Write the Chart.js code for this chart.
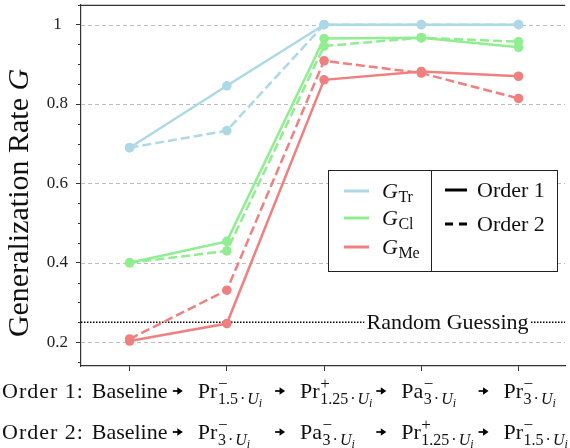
<!DOCTYPE html>
<html>
<head>
<meta charset="utf-8">
<script src="https://cdn.jsdelivr.net/npm/chart.js@4.4.1/dist/chart.umd.min.js"></script>
<style>
  html, body { margin: 0; padding: 0; background: #fff; }
</style>
</head>
<body>
<canvas id="chart" width="570" height="448"></canvas>
<script>
// step index along each ordering
const steps = [0, 1, 2, 3, 4];
// [operator, sign, factor] of each step, per ordering
const order1Labels = ["Baseline", ["Pr", "\u2212", "1.5"], ["Pr", "+", "1.25"], ["Pa", "\u2212", "3"], ["Pr", "\u2212", "3"]];
const order2Labels = ["Baseline", ["Pr", "\u2212", "3"], ["Pa", "\u2212", "3"], ["Pr", "+", "1.25"], ["Pr", "\u2212", "1.5"]];

const trOrder1 = [0.690, 0.846, 1.000, 1.000, 1.000];
const trOrder2 = [0.690, 0.733, 1.000, 1.000, 1.000];
const clOrder1 = [0.400, 0.454, 0.965, 0.967, 0.943];
const clOrder2 = [0.400, 0.430, 0.946, 0.967, 0.957];
const meOrder1 = [0.203, 0.247, 0.861, 0.882, 0.870];
const meOrder2 = [0.208, 0.331, 0.909, 0.878, 0.814];

const yTicks = [0.2, 0.4, 0.6, 0.8, 1];
const randomGuess = 0.25;

const seriesNames = ["Tr", "Cl", "Me"];
const seriesColors = ["#add8e6", "#90ee90", "#f08080"];

const SERIF = '"Liberation Serif", "Times New Roman", serif';
function font(size, italic) {
    return (italic ? "italic " : "") + size + "px " + SERIF;
}

function pts(values) {
    return steps.map((s, i) => ({ x: s, y: values[i] }));
}

function lineSet(values, color, dashed) {
    return {
        data: pts(values),
        borderColor: color,
        backgroundColor: color,
        borderWidth: 2.5,
        borderDash: dashed ? [9, 4] : [],
        pointRadius: 4.8,
        pointBorderWidth: 0,
        pointBackgroundColor: color,
        tension: 0,
        fill: false,
    };
}

// little latex-ish arrow
function drawArrow(ctx, x, y) {
    ctx.save();
    ctx.strokeStyle = "#000";
    ctx.fillStyle = "#000";
    ctx.lineWidth = 1.7;
    ctx.beginPath();
    ctx.moveTo(x, y);
    ctx.lineTo(x + 6.5, y);
    ctx.stroke();
    ctx.beginPath();
    ctx.moveTo(x + 10, y);
    ctx.lineTo(x + 4.5, y - 3.8);
    ctx.lineTo(x + 4.5, y + 3.8);
    ctx.closePath();
    ctx.fill();
    ctx.restore();
}

// e.g. Pr^-_{1.5 . U_i}
function drawOp(ctx, x, y, spec) {
    ctx.font = font(22);
    ctx.fillText(spec[0], x, y);
    const cx = x + ctx.measureText(spec[0]).width + 0.5;
    ctx.font = font(17);
    ctx.fillText(spec[1], cx, y - 9);
    let sx = cx;
    ctx.font = font(16);
    ctx.fillText(spec[2], sx, y + 6);
    sx += ctx.measureText(spec[2]).width + 2;
    ctx.fillText("\u00b7", sx, y + 6);
    sx += ctx.measureText("\u00b7").width + 2;
    ctx.font = font(16, true);
    ctx.fillText("U", sx, y + 6);
    sx += ctx.measureText("U").width;
    ctx.font = font(12, true);
    ctx.fillText("i", sx, y + 9);
}

const gridPlugin = {
    id: "gridPlugin",
    beforeDatasetsDraw(chart) {
        const ctx = chart.ctx, a = chart.chartArea, ys = chart.scales.y;
        ctx.save();
        ctx.strokeStyle = "#bdbdbd";
        ctx.lineWidth = 1;
        ctx.setLineDash([4, 3]);
        yTicks.forEach(v => {
            const py = Math.round(ys.getPixelForValue(v)) + 0.5;
            ctx.beginPath();
            ctx.moveTo(a.left, py);
            ctx.lineTo(a.right, py);
            ctx.stroke();
        });
        ctx.setLineDash([]);
        ctx.strokeStyle = "#333";
        // minor ticks every 0.05
        for (let k = 3; k <= 21; k++) {
            if (k % 4 === 0) continue;
            const py = Math.round(ys.getPixelForValue(k * 0.05)) + 0.5;
            ctx.beginPath();
            ctx.moveTo(a.left - 3, py);
            ctx.lineTo(a.left, py);
            ctx.stroke();
        }
        // top spine
        ctx.lineWidth = 1.2;
        ctx.beginPath();
        ctx.moveTo(a.left, a.top + 0.5);
        ctx.lineTo(a.right, a.top + 0.5);
        ctx.stroke();
        ctx.restore();
    },
    afterDatasetsDraw(chart) {
        const ctx = chart.ctx, xs = chart.scales.x, ys = chart.scales.y;
        const cx = xs.getPixelForValue(3.27);
        const cy = ys.getPixelForValue(randomGuess);
        ctx.save();
        ctx.font = font(22);
        const txt = "Random Guessing";
        const w = ctx.measureText(txt).width;
        ctx.fillStyle = "#fff";
        ctx.fillRect(cx - w / 2 - 2, cy - 9, w + 4, 20);
        ctx.fillStyle = "#111";
        ctx.textAlign = "center";
        ctx.fillText(txt, cx, cy + 7);
        ctx.restore();
    },
    afterDraw(chart) {
        const ctx = chart.ctx, xs = chart.scales.x;
        ctx.save();
        ctx.fillStyle = "#111";
        ctx.textBaseline = "alphabetic";

        // y axis title
        ctx.save();
        ctx.translate(28, 203);
        ctx.rotate(-Math.PI / 2);
        ctx.font = font(30);
        const t1 = "Generalization Rate ";
        const w1 = ctx.measureText(t1).width;
        ctx.font = font(30, true);
        const w2 = ctx.measureText("G").width;
        ctx.font = font(30);
        ctx.fillText(t1, -(w1 + w2) / 2, 0);
        ctx.font = font(30, true);
        ctx.fillText("G", -(w1 + w2) / 2 + w1, 0);
        ctx.restore();

        // two rows of step labels
        const arrowOffset = [0, 54, 49, 45, 40];
        const rows = [["Order 1:", order1Labels, 398], ["Order 2:", order2Labels, 439]];
        rows.forEach(([name, labels, y]) => {
            ctx.font = font(22);
            ctx.textAlign = "left";
            ctx.letterSpacing = "1px";
            ctx.fillText(name, 2, y);
            ctx.letterSpacing = "0px";
            steps.forEach((s, i) => {
                const px = xs.getPixelForValue(s);
                if (typeof labels[i] === "string") {
                    ctx.font = font(22);
                    ctx.textAlign = "center";
                    ctx.fillText(labels[i], px, y);
                    ctx.textAlign = "left";
                } else {
                    const ax = px - arrowOffset[i];
                    drawArrow(ctx, ax, y - 7);
                    drawOp(ctx, ax + 25, y, labels[i]);
                }
            });
        });

        // legend box
        const L = { x: 328, y: 170, w: 229, h: 101, div: 431 };
        ctx.fillStyle = "#fff";
        ctx.fillRect(L.x, L.y, L.w, L.h);
        ctx.strokeStyle = "#222";
        ctx.lineWidth = 1;
        ctx.strokeRect(L.x + 0.5, L.y + 0.5, L.w, L.h);
        ctx.beginPath();
        ctx.moveTo(L.div + 0.5, L.y);
        ctx.lineTo(L.div + 0.5, L.y + L.h);
        ctx.stroke();

        const rowY = [191, 218, 247];
        seriesNames.forEach((n, i) => {
            const y = rowY[i];
            ctx.strokeStyle = seriesColors[i];
            ctx.lineWidth = 3;
            ctx.beginPath();
            ctx.moveTo(344, y);
            ctx.lineTo(369, y);
            ctx.stroke();
            ctx.fillStyle = "#111";
            ctx.font = font(22, true);
            ctx.fillText("G", 382, y + 7);
            const gw = ctx.measureText("G").width;
            ctx.font = font(16);
            ctx.fillText(n, 382 + gw + 0.5, y + 11);
        });

        const ordY = [190, 224];
        ["Order 1", "Order 2"].forEach((n, i) => {
            const y = ordY[i];
            ctx.strokeStyle = "#000";
            ctx.lineWidth = 3;
            ctx.setLineDash(i === 0 ? [] : [8, 6]);
            ctx.beginPath();
            ctx.moveTo(445, y);
            ctx.lineTo(467, y);
            ctx.stroke();
            ctx.setLineDash([]);
            ctx.fillStyle = "#111";
            ctx.font = font(22);
            ctx.fillText(n, 477, y + 7);
        });
        ctx.restore();
    },
};

const datasets = [
    lineSet(trOrder1, seriesColors[0], false),
    lineSet(trOrder2, seriesColors[0], true),
    lineSet(clOrder1, seriesColors[1], false),
    lineSet(clOrder2, seriesColors[1], true),
    lineSet(meOrder1, seriesColors[2], false),
    lineSet(meOrder2, seriesColors[2], true),
    {
        data: [{ x: -0.5, y: randomGuess }, { x: 4.48, y: randomGuess }],
        borderColor: "#000",
        borderWidth: 1.5,
        borderDash: [1.5, 1.5],
        pointRadius: 0,
        fill: false,
    },
];

function noPad(s) {
    s.paddingTop = 0;
    s.paddingBottom = 0;
    s.paddingLeft = 0;
    s.paddingRight = 0;
}

new Chart(document.getElementById("chart").getContext("2d"), {
    type: "line",
    data: { datasets: datasets },
    options: {
        responsive: false,
        animation: false,
        devicePixelRatio: 1,
        layout: { padding: { top: 2, left: 0, right: 0, bottom: 0 } },
        plugins: { legend: { display: false }, tooltip: { enabled: false } },
        scales: {
            x: {
                type: "linear",
                min: -0.5,
                max: 4.48,
                afterBuildTicks: s => { s.ticks = steps.map(v => ({ value: v })); },
                afterFit: s => { s.height = 82; noPad(s); },
                ticks: { display: false },
                grid: { drawOnChartArea: false, drawTicks: true, tickLength: 5, color: "#333" },
                border: { display: true, color: "#333", width: 1.2 },
            },
            y: {
                min: 0.14,
                max: 1.05,
                afterBuildTicks: s => { s.ticks = yTicks.map(v => ({ value: v })); },
                afterFit: s => { s.width = 81; noPad(s); },
                ticks: {
                    font: { family: SERIF, size: 17 },
                    color: "#222",
                    crossAlign: "center",
                    padding: 8,
                    callback: v => (v === 1 ? "1" : v.toFixed(1)),
                },
                grid: { drawOnChartArea: false, drawTicks: true, tickLength: 5, color: "#333" },
                border: { display: true, color: "#333", width: 1.2 },
            },
        },
    },
    plugins: [gridPlugin],
});
</script>
</body>
</html>
